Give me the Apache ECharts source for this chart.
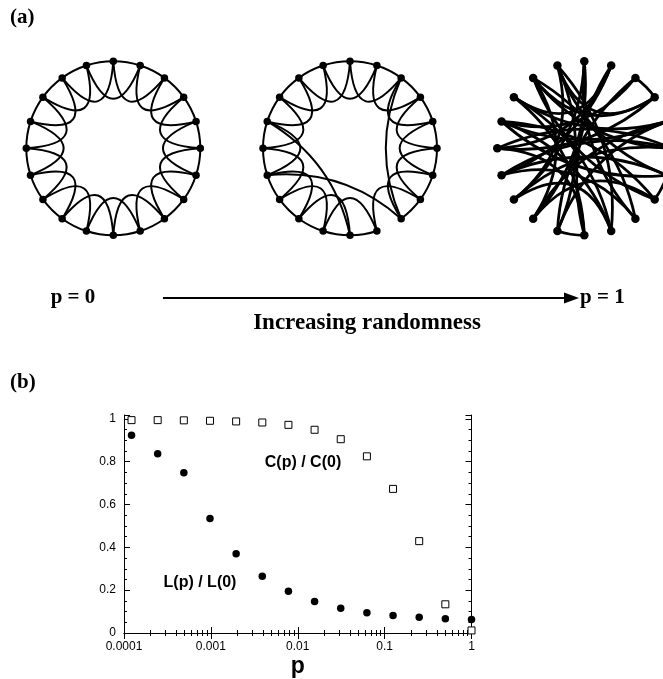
<!DOCTYPE html>
<html><head><meta charset="utf-8">
<script src="https://cdn.jsdelivr.net/npm/echarts@6/dist/echarts.min.js"></script>
<style>html,body{margin:0;padding:0;background:#fff}#c{width:663px;height:679px}</style>
</head><body><div id="c"></div>
<script>
// ---------- data: panel (b) ----------
const pValues = [0.0001220703125, 0.000244140625, 0.00048828125, 0.0009765625, 0.001953125,
  0.00390625, 0.0078125, 0.015625, 0.03125, 0.0625, 0.125, 0.25, 0.5, 1];
const cRatio = [0.994, 0.994, 0.993, 0.991, 0.988, 0.983, 0.972, 0.949, 0.905, 0.825, 0.673, 0.429, 0.134, 0.012];
const lRatio = [0.923, 0.837, 0.748, 0.535, 0.370, 0.265, 0.195, 0.147, 0.115, 0.095, 0.082, 0.073, 0.066, 0.063];

// ---------- data: panel (a) ring networks (20 nodes, angles in degrees clockwise from top) ----------
const nodeAngles = [0, 18, 36, 54, 72, 90, 108, 126, 144, 162, 180, 198, 216, 234, 252, 270, 288, 306, 324, 342];
const ring1Edges = [
  [0,1],[1,2],[2,3],[3,4],[4,5],[5,6],[6,7],[7,8],[8,9],[9,10],[10,11],[11,12],[12,13],[13,14],[14,15],[15,16],[16,17],[17,18],[18,19],[19,0],
  [0,2],[1,3],[2,4],[3,5],[4,6],[5,7],[6,8],[7,9],[8,10],[9,11],[10,12],[11,13],[12,14],[13,15],[14,16],[15,17],[16,18],[17,19],[18,0],[19,1]
];
const ring2Edges = [
  [0,1],[1,2],[2,3],[3,4],[4,5],[5,6],[6,7],[7,8],[9,10],[10,11],[11,12],[12,13],[13,14],[14,15],[15,16],[16,17],[17,18],[18,19],[19,0],
  [0,2],[1,3],[2,4],[3,5],[4,6],[5,7],[6,8],[7,9],[9,11],[10,12],[11,13],[12,14],[13,15],[14,16],[15,17],[16,18],[17,19],[18,0],[19,1],
  [14,8],[16,10],[2,8]
];
const ring3Edges = [
  [0,8],[0,13],[1,10],[1,14],[1,17],[2,3],[2,16],[2,11],[3,15],[3,18],
  [4,12],[4,16],[4,17],[5,13],[5,15],[5,18],[6,14],[6,7],[6,19],[7,16],
  [7,12],[8,14],[8,18],[9,13],[9,16],[9,19],[10,11],[10,17],[11,19],[11,4],
  [12,18],[12,0],[13,19],[14,5],[15,1],[16,6],[17,9],[18,7],[19,3],[10,15]
];

// ---------- helpers ----------
const N = nodeAngles.length;
function ringNodes() {
  return nodeAngles.map(function (a, i) { return { name: 'n' + i, value: [1, a] }; });
}
function ringLinks(edges, f, fLong, cMin) {
  return edges.map(function (e) {
    let a = e[0], b = e[1];
    let s = ((b - a) % N + N) % N;
    if (s > N / 2) { const t = a; a = b; b = t; s = N - s; }
    let c;
    if (s === 1) c = 0.08;
    else if (s === 2) c = -f * 0.5 / Math.tan(s * Math.PI / N);
    else c = -Math.max(cMin, fLong * 0.5 / Math.tan(s * Math.PI / N));
    return { source: a, target: b, lineStyle: { curveness: c } };
  });
}
function ringSeries(idx, edges, f, fLong, cMin, lw, ns) {
  return {
    type: 'graph', coordinateSystem: 'polar', polarIndex: idx,
    data: ringNodes(), links: ringLinks(edges, f, fLong, cMin),
    symbol: 'circle', symbolSize: ns,
    itemStyle: { color: '#000' },
    lineStyle: { color: '#000', width: lw, opacity: 1 },
    label: { show: false }, silent: true, z: 2
  };
}

const chart = echarts.init(document.getElementById('c'), null, { renderer: 'canvas' });
const axisBlack = { color: '#000', width: 1 };
const sans = '"Liberation Sans", Arial, sans-serif';
const serif = '"Liberation Serif", "Times New Roman", serif';

const option = {
  animation: false,
  backgroundColor: '#fff',
  polar: [
    { center: [113.3, 148.3], radius: 87 },
    { center: [350, 148.3], radius: 87 },
    { center: [584.3, 148.3], radius: 87 }
  ],
  angleAxis: [0, 1, 2].map(function (i) {
    return { polarIndex: i, type: 'value', min: 0, max: 360, startAngle: 90, clockwise: true, show: false };
  }),
  radiusAxis: [0, 1, 2].map(function (i) {
    return { polarIndex: i, type: 'value', min: 0, max: 1, show: false };
  }),
  grid: { left: 124, top: 415, width: 347.5, height: 222, containLabel: false },
  xAxis: [
    {
      type: 'log', logBase: 10, min: 0.0001, max: 1, position: 'bottom',
      axisLine: { lineStyle: axisBlack },
      axisTick: { inside: true, length: 6, lineStyle: axisBlack },
      minorTick: { show: true, splitNumber: 9, length: 3, lineStyle: axisBlack },
      splitLine: { show: false },
      axisLabel: { color: '#000', fontFamily: sans, fontSize: 12, margin: 8 },
      name: 'p', nameLocation: 'middle', nameGap: 22,
      nameTextStyle: { color: '#000', fontFamily: sans, fontWeight: 'bold', fontSize: 23 }
    },
    {
      type: 'log', logBase: 10, min: 0.0001, max: 1, position: 'top',
      axisLine: { lineStyle: axisBlack },
      axisTick: { inside: true, length: 6, lineStyle: axisBlack },
      minorTick: { show: true, splitNumber: 9, length: 3, lineStyle: axisBlack },
      splitLine: { show: false }, axisLabel: { show: false }
    }
  ],
  yAxis: [
    {
      type: 'value', min: 0, max: 1.018, interval: 0.2, position: 'left',
      axisLine: { lineStyle: axisBlack },
      axisTick: { inside: true, length: 6, lineStyle: axisBlack },
      minorTick: { show: true, splitNumber: 4, length: 3, lineStyle: axisBlack },
      splitLine: { show: false },
      axisLabel: { color: '#000', fontFamily: sans, fontSize: 12, margin: 8, showMaxLabel: false }
    },
    {
      type: 'value', min: 0, max: 1.018, interval: 0.2, position: 'right',
      axisLine: { lineStyle: axisBlack },
      axisTick: { inside: true, length: 6, lineStyle: axisBlack },
      minorTick: { show: true, splitNumber: 4, length: 3, lineStyle: axisBlack },
      splitLine: { show: false }, axisLabel: { show: false }
    }
  ],
  series: [
    ringSeries(0, ring1Edges, 0.8, 0.6, 0.1, 2, 7.5),
    ringSeries(1, ring2Edges, 0.8, 0.6, 0.12, 2, 7.5),
    ringSeries(2, ring3Edges, 0.8, 0.9, 0.22, 2.8, 8.5),
    {
      type: 'scatter', xAxisIndex: 0, yAxisIndex: 0, clip: false, z: 3,
      data: pValues.map(function (p, i) { return [p, cRatio[i]]; }),
      symbol: 'rect', symbolSize: 7,
      itemStyle: { color: '#fff', borderColor: '#000', borderWidth: 1, opacity: 1 }
    },
    {
      type: 'scatter', xAxisIndex: 0, yAxisIndex: 0, clip: false, z: 3,
      data: pValues.map(function (p, i) { return [p, lRatio[i]]; }),
      symbol: 'circle', symbolSize: 7.5,
      itemStyle: { color: '#000', opacity: 1 }
    }
  ],
  graphic: [
    { type: 'text', x: 10, y: 18, style: { text: '(a)', font: 'bold 21px ' + serif, fill: '#000', align: 'left', verticalAlign: 'middle', textAlign: 'left', textVerticalAlign: 'middle' } },
    { type: 'text', x: 10, y: 383, style: { text: '(b)', font: 'bold 21px ' + serif, fill: '#000', align: 'left', verticalAlign: 'middle', textAlign: 'left', textVerticalAlign: 'middle' } },
    { type: 'text', x: 73, y: 298, style: { text: 'p = 0', font: 'bold 21px ' + serif, fill: '#000', align: 'center', verticalAlign: 'middle', textAlign: 'center', textVerticalAlign: 'middle' } },
    { type: 'text', x: 580, y: 298, style: { text: 'p = 1', font: 'bold 21px ' + serif, fill: '#000', align: 'left', verticalAlign: 'middle', textAlign: 'left', textVerticalAlign: 'middle' } },
    { type: 'text', x: 367, y: 323, style: { text: 'Increasing randomness', font: 'bold 23px ' + serif, fill: '#000', align: 'center', verticalAlign: 'middle', textAlign: 'center', textVerticalAlign: 'middle' } },
    { type: 'line', shape: { x1: 163, y1: 298, x2: 568, y2: 298 }, style: { stroke: '#000', lineWidth: 2 } },
    { type: 'polygon', shape: { points: [[579, 298], [564, 292.5], [564, 303.5]] }, style: { fill: '#000' } },
    { type: 'text', x: 303, y: 463, style: { text: 'C(p) / C(0)', font: 'bold 16px ' + sans, fill: '#000', align: 'center', verticalAlign: 'middle', textAlign: 'center', textVerticalAlign: 'middle' } },
    { type: 'text', x: 200, y: 583, style: { text: 'L(p) / L(0)', font: 'bold 16px ' + sans, fill: '#000', align: 'center', verticalAlign: 'middle', textAlign: 'center', textVerticalAlign: 'middle' } }
  ]
};
chart.setOption(option);
</script>
</body></html>
